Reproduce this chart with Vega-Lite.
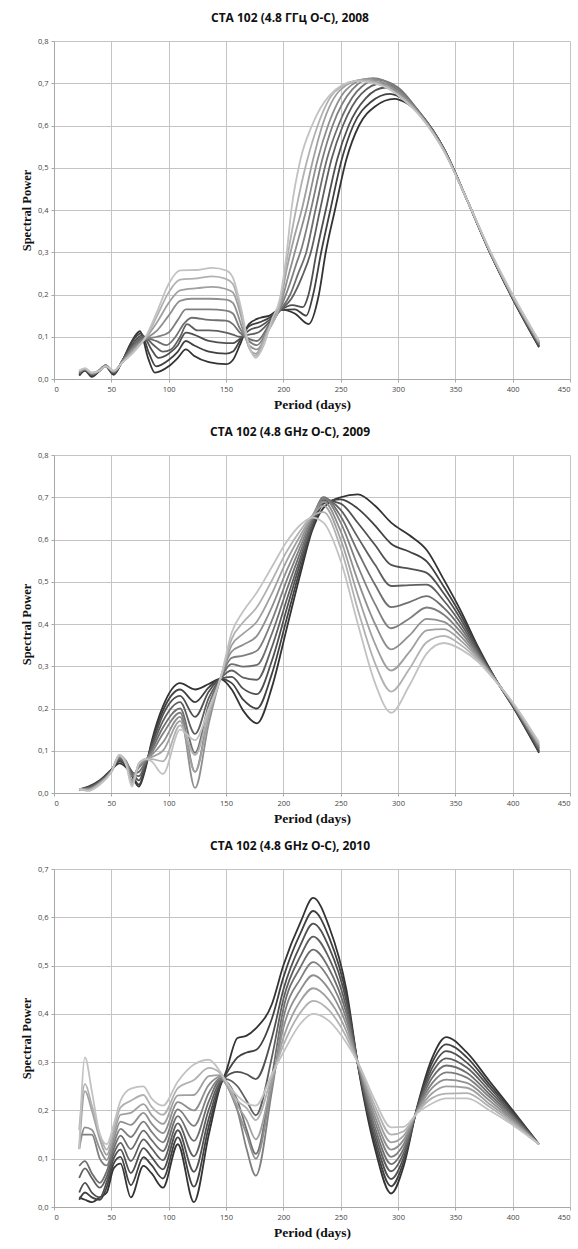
{
"$schema":"https://vega.github.io/schema/vega-lite/v6.json",
"padding":{"left":20,"top":12,"right":0,"bottom":2},
"spacing":15,
"config":{
 "view":{"stroke":null},
 "axis":{"grid":true,"gridColor":"#c4c4c4","gridWidth":1,"domainColor":"#a8a8a8","tickColor":"#a8a8a8","tickSize":3,"labelFont":"Open Sans","labelFontSize":7.5,"labelColor":"#444444","labelPadding":3,"titleFont":"Liberation Serif","titleFontWeight":"bold","titleColor":"#111111"},
 "axisX":{"titleFontSize":13.5,"titlePadding":5},
 "axisY":{"titleFontSize":12.5,"titlePadding":4},
 "title":{"font":"Open Sans","fontWeight":"bold","fontSize":12,"color":"#111111","offset":12},
 "line":{"interpolate":"monotone","strokeWidth":1.8}
},
"datasets":{
"p1":[
{"k":0,"x":22,"y":0.008},{"k":0,"x":27,"y":0.02},{"k":0,"x":33,"y":0.005},{"k":0,"x":40,"y":0.02},{"k":0,"x":45,"y":0.03},{"k":0,"x":52,"y":0.01},{"k":0,"x":60,"y":0.045},{"k":0,"x":68,"y":0.09},{"k":0,"x":75,"y":0.113},{"k":0,"x":82,"y":0.05},{"k":0,"x":88,"y":0.015},{"k":0,"x":100,"y":0.03},{"k":0,"x":108,"y":0.05},{"k":0,"x":115,"y":0.07},{"k":0,"x":122,"y":0.055},{"k":0,"x":135,"y":0.04},{"k":0,"x":150,"y":0.035},{"k":0,"x":156,"y":0.045},{"k":0,"x":162,"y":0.08},{"k":0,"x":170,"y":0.13},{"k":0,"x":180,"y":0.145},{"k":0,"x":188,"y":0.15},{"k":0,"x":197,"y":0.165},{"k":0,"x":210,"y":0.155},{"k":0,"x":222,"y":0.13},{"k":0,"x":231,"y":0.2},{"k":0,"x":237,"y":0.3},{"k":0,"x":245,"y":0.4},{"k":0,"x":255,"y":0.52},{"k":0,"x":266,"y":0.6},{"k":0,"x":280,"y":0.645},{"k":0,"x":297,"y":0.663},{"k":0,"x":308,"y":0.652},{"k":0,"x":320,"y":0.625},{"k":0,"x":340,"y":0.545},{"k":0,"x":360,"y":0.425},{"k":0,"x":380,"y":0.3},{"k":0,"x":400,"y":0.19},{"k":0,"x":423,"y":0.075},
{"k":1,"x":22,"y":0.01},{"k":1,"x":27,"y":0.02},{"k":1,"x":33,"y":0.008},{"k":1,"x":40,"y":0.02},{"k":1,"x":45,"y":0.03},{"k":1,"x":52,"y":0.012},{"k":1,"x":60,"y":0.045},{"k":1,"x":68,"y":0.088},{"k":1,"x":76,"y":0.108},{"k":1,"x":83,"y":0.06},{"k":1,"x":89,"y":0.03},{"k":1,"x":100,"y":0.045},{"k":1,"x":108,"y":0.065},{"k":1,"x":115,"y":0.09},{"k":1,"x":122,"y":0.08},{"k":1,"x":135,"y":0.065},{"k":1,"x":150,"y":0.06},{"k":1,"x":156,"y":0.065},{"k":1,"x":162,"y":0.09},{"k":1,"x":170,"y":0.125},{"k":1,"x":180,"y":0.135},{"k":1,"x":188,"y":0.145},{"k":1,"x":197,"y":0.163},{"k":1,"x":210,"y":0.165},{"k":1,"x":220,"y":0.15},{"k":1,"x":226,"y":0.2},{"k":1,"x":233,"y":0.3},{"k":1,"x":241,"y":0.4},{"k":1,"x":251,"y":0.52},{"k":1,"x":261,"y":0.6},{"k":1,"x":276,"y":0.655},{"k":1,"x":293,"y":0.675},{"k":1,"x":306,"y":0.66},{"k":1,"x":320,"y":0.625},{"k":1,"x":340,"y":0.545},{"k":1,"x":360,"y":0.425},{"k":1,"x":380,"y":0.3},{"k":1,"x":400,"y":0.19},{"k":1,"x":423,"y":0.077},
{"k":2,"x":22,"y":0.012},{"k":2,"x":27,"y":0.022},{"k":2,"x":33,"y":0.01},{"k":2,"x":40,"y":0.02},{"k":2,"x":45,"y":0.032},{"k":2,"x":52,"y":0.014},{"k":2,"x":60,"y":0.045},{"k":2,"x":69,"y":0.085},{"k":2,"x":77,"y":0.104},{"k":2,"x":85,"y":0.07},{"k":2,"x":91,"y":0.05},{"k":2,"x":100,"y":0.06},{"k":2,"x":108,"y":0.08},{"k":2,"x":115,"y":0.11},{"k":2,"x":122,"y":0.105},{"k":2,"x":135,"y":0.09},{"k":2,"x":150,"y":0.085},{"k":2,"x":156,"y":0.085},{"k":2,"x":162,"y":0.095},{"k":2,"x":170,"y":0.115},{"k":2,"x":180,"y":0.125},{"k":2,"x":188,"y":0.14},{"k":2,"x":197,"y":0.162},{"k":2,"x":208,"y":0.175},{"k":2,"x":217,"y":0.17},{"k":2,"x":222,"y":0.2},{"k":2,"x":229,"y":0.3},{"k":2,"x":237,"y":0.4},{"k":2,"x":247,"y":0.52},{"k":2,"x":257,"y":0.6},{"k":2,"x":272,"y":0.665},{"k":2,"x":289,"y":0.69},{"k":2,"x":304,"y":0.67},{"k":2,"x":320,"y":0.627},{"k":2,"x":340,"y":0.545},{"k":2,"x":360,"y":0.425},{"k":2,"x":380,"y":0.301},{"k":2,"x":400,"y":0.191},{"k":2,"x":423,"y":0.079},
{"k":3,"x":22,"y":0.013},{"k":3,"x":27,"y":0.022},{"k":3,"x":33,"y":0.01},{"k":3,"x":40,"y":0.022},{"k":3,"x":45,"y":0.032},{"k":3,"x":52,"y":0.015},{"k":3,"x":60,"y":0.045},{"k":3,"x":70,"y":0.083},{"k":3,"x":78,"y":0.1},{"k":3,"x":87,"y":0.08},{"k":3,"x":95,"y":0.065},{"k":3,"x":102,"y":0.07},{"k":3,"x":110,"y":0.1},{"k":3,"x":116,"y":0.13},{"k":3,"x":125,"y":0.115},{"k":3,"x":135,"y":0.115},{"k":3,"x":150,"y":0.11},{"k":3,"x":156,"y":0.105},{"k":3,"x":162,"y":0.1},{"k":3,"x":170,"y":0.105},{"k":3,"x":178,"y":0.11},{"k":3,"x":188,"y":0.135},{"k":3,"x":197,"y":0.162},{"k":3,"x":207,"y":0.19},{"k":3,"x":216,"y":0.24},{"k":3,"x":224,"y":0.3},{"k":3,"x":232,"y":0.4},{"k":3,"x":242,"y":0.52},{"k":3,"x":252,"y":0.6},{"k":3,"x":268,"y":0.675},{"k":3,"x":286,"y":0.7},{"k":3,"x":302,"y":0.68},{"k":3,"x":320,"y":0.627},{"k":3,"x":340,"y":0.545},{"k":3,"x":360,"y":0.425},{"k":3,"x":380,"y":0.301},{"k":3,"x":400,"y":0.192},{"k":3,"x":423,"y":0.081},
{"k":4,"x":22,"y":0.015},{"k":4,"x":27,"y":0.023},{"k":4,"x":33,"y":0.012},{"k":4,"x":40,"y":0.022},{"k":4,"x":45,"y":0.033},{"k":4,"x":52,"y":0.016},{"k":4,"x":60,"y":0.044},{"k":4,"x":70,"y":0.08},{"k":4,"x":79,"y":0.097},{"k":4,"x":89,"y":0.09},{"k":4,"x":98,"y":0.08},{"k":4,"x":106,"y":0.1},{"k":4,"x":113,"y":0.13},{"k":4,"x":120,"y":0.145},{"k":4,"x":135,"y":0.14},{"k":4,"x":150,"y":0.138},{"k":4,"x":156,"y":0.13},{"k":4,"x":162,"y":0.11},{"k":4,"x":170,"y":0.095},{"k":4,"x":177,"y":0.09},{"k":4,"x":188,"y":0.13},{"k":4,"x":197,"y":0.162},{"k":4,"x":206,"y":0.2},{"k":4,"x":213,"y":0.25},{"k":4,"x":220,"y":0.3},{"k":4,"x":228,"y":0.4},{"k":4,"x":238,"y":0.52},{"k":4,"x":248,"y":0.6},{"k":4,"x":264,"y":0.68},{"k":4,"x":282,"y":0.708},{"k":4,"x":300,"y":0.69},{"k":4,"x":320,"y":0.626},{"k":4,"x":340,"y":0.544},{"k":4,"x":360,"y":0.425},{"k":4,"x":380,"y":0.302},{"k":4,"x":400,"y":0.193},{"k":4,"x":423,"y":0.083},
{"k":5,"x":22,"y":0.016},{"k":5,"x":27,"y":0.023},{"k":5,"x":33,"y":0.012},{"k":5,"x":40,"y":0.022},{"k":5,"x":45,"y":0.033},{"k":5,"x":52,"y":0.017},{"k":5,"x":60,"y":0.043},{"k":5,"x":70,"y":0.077},{"k":5,"x":80,"y":0.095},{"k":5,"x":90,"y":0.1},{"k":5,"x":100,"y":0.11},{"k":5,"x":108,"y":0.14},{"k":5,"x":115,"y":0.165},{"k":5,"x":135,"y":0.165},{"k":5,"x":150,"y":0.162},{"k":5,"x":156,"y":0.155},{"k":5,"x":162,"y":0.12},{"k":5,"x":170,"y":0.09},{"k":5,"x":177,"y":0.08},{"k":5,"x":188,"y":0.125},{"k":5,"x":197,"y":0.165},{"k":5,"x":205,"y":0.22},{"k":5,"x":211,"y":0.27},{"k":5,"x":216,"y":0.31},{"k":5,"x":224,"y":0.4},{"k":5,"x":234,"y":0.52},{"k":5,"x":243,"y":0.6},{"k":5,"x":260,"y":0.685},{"k":5,"x":278,"y":0.712},{"k":5,"x":298,"y":0.69},{"k":5,"x":320,"y":0.625},{"k":5,"x":340,"y":0.543},{"k":5,"x":360,"y":0.425},{"k":5,"x":380,"y":0.302},{"k":5,"x":400,"y":0.194},{"k":5,"x":423,"y":0.084},
{"k":6,"x":22,"y":0.017},{"k":6,"x":27,"y":0.024},{"k":6,"x":33,"y":0.013},{"k":6,"x":40,"y":0.02},{"k":6,"x":45,"y":0.032},{"k":6,"x":52,"y":0.018},{"k":6,"x":60,"y":0.042},{"k":6,"x":70,"y":0.073},{"k":6,"x":80,"y":0.095},{"k":6,"x":90,"y":0.115},{"k":6,"x":100,"y":0.15},{"k":6,"x":110,"y":0.185},{"k":6,"x":120,"y":0.19},{"k":6,"x":135,"y":0.19},{"k":6,"x":150,"y":0.188},{"k":6,"x":156,"y":0.18},{"k":6,"x":163,"y":0.13},{"k":6,"x":170,"y":0.08},{"k":6,"x":177,"y":0.07},{"k":6,"x":188,"y":0.12},{"k":6,"x":197,"y":0.17},{"k":6,"x":204,"y":0.24},{"k":6,"x":212,"y":0.32},{"k":6,"x":220,"y":0.4},{"k":6,"x":230,"y":0.52},{"k":6,"x":239,"y":0.6},{"k":6,"x":255,"y":0.685},{"k":6,"x":274,"y":0.711},{"k":6,"x":295,"y":0.69},{"k":6,"x":320,"y":0.624},{"k":6,"x":340,"y":0.542},{"k":6,"x":360,"y":0.425},{"k":6,"x":380,"y":0.303},{"k":6,"x":400,"y":0.195},{"k":6,"x":423,"y":0.086},
{"k":7,"x":22,"y":0.018},{"k":7,"x":27,"y":0.024},{"k":7,"x":33,"y":0.014},{"k":7,"x":40,"y":0.02},{"k":7,"x":45,"y":0.031},{"k":7,"x":52,"y":0.018},{"k":7,"x":60,"y":0.041},{"k":7,"x":70,"y":0.07},{"k":7,"x":80,"y":0.097},{"k":7,"x":90,"y":0.135},{"k":7,"x":100,"y":0.18},{"k":7,"x":110,"y":0.21},{"k":7,"x":125,"y":0.215},{"k":7,"x":138,"y":0.218},{"k":7,"x":150,"y":0.213},{"k":7,"x":156,"y":0.205},{"k":7,"x":163,"y":0.15},{"k":7,"x":170,"y":0.075},{"k":7,"x":176,"y":0.06},{"k":7,"x":187,"y":0.12},{"k":7,"x":197,"y":0.175},{"k":7,"x":203,"y":0.26},{"k":7,"x":209,"y":0.33},{"k":7,"x":216,"y":0.4},{"k":7,"x":226,"y":0.52},{"k":7,"x":234,"y":0.6},{"k":7,"x":250,"y":0.685},{"k":7,"x":270,"y":0.709},{"k":7,"x":292,"y":0.69},{"k":7,"x":320,"y":0.622},{"k":7,"x":340,"y":0.541},{"k":7,"x":360,"y":0.425},{"k":7,"x":380,"y":0.303},{"k":7,"x":400,"y":0.196},{"k":7,"x":423,"y":0.087},
{"k":8,"x":22,"y":0.019},{"k":8,"x":27,"y":0.025},{"k":8,"x":33,"y":0.015},{"k":8,"x":40,"y":0.02},{"k":8,"x":45,"y":0.03},{"k":8,"x":52,"y":0.019},{"k":8,"x":60,"y":0.04},{"k":8,"x":70,"y":0.067},{"k":8,"x":80,"y":0.098},{"k":8,"x":90,"y":0.15},{"k":8,"x":100,"y":0.205},{"k":8,"x":110,"y":0.235},{"k":8,"x":125,"y":0.238},{"k":8,"x":138,"y":0.243},{"k":8,"x":150,"y":0.237},{"k":8,"x":156,"y":0.225},{"k":8,"x":163,"y":0.16},{"k":8,"x":170,"y":0.075},{"k":8,"x":176,"y":0.055},{"k":8,"x":186,"y":0.11},{"k":8,"x":197,"y":0.18},{"k":8,"x":203,"y":0.28},{"k":8,"x":211,"y":0.4},{"k":8,"x":221,"y":0.52},{"k":8,"x":230,"y":0.6},{"k":8,"x":245,"y":0.68},{"k":8,"x":267,"y":0.707},{"k":8,"x":290,"y":0.69},{"k":8,"x":320,"y":0.621},{"k":8,"x":340,"y":0.54},{"k":8,"x":360,"y":0.425},{"k":8,"x":380,"y":0.304},{"k":8,"x":400,"y":0.197},{"k":8,"x":423,"y":0.089},
{"k":9,"x":22,"y":0.02},{"k":9,"x":27,"y":0.025},{"k":9,"x":33,"y":0.015},{"k":9,"x":40,"y":0.02},{"k":9,"x":45,"y":0.03},{"k":9,"x":52,"y":0.02},{"k":9,"x":60,"y":0.04},{"k":9,"x":70,"y":0.065},{"k":9,"x":80,"y":0.1},{"k":9,"x":90,"y":0.16},{"k":9,"x":100,"y":0.225},{"k":9,"x":110,"y":0.257},{"k":9,"x":125,"y":0.258},{"k":9,"x":138,"y":0.263},{"k":9,"x":150,"y":0.257},{"k":9,"x":156,"y":0.24},{"k":9,"x":163,"y":0.17},{"k":9,"x":170,"y":0.08},{"k":9,"x":176,"y":0.05},{"k":9,"x":183,"y":0.08},{"k":9,"x":190,"y":0.14},{"k":9,"x":197,"y":0.19},{"k":9,"x":203,"y":0.3},{"k":9,"x":207,"y":0.4},{"k":9,"x":215,"y":0.52},{"k":9,"x":225,"y":0.6},{"k":9,"x":240,"y":0.67},{"k":9,"x":263,"y":0.705},{"k":9,"x":290,"y":0.69},{"k":9,"x":305,"y":0.66},{"k":9,"x":320,"y":0.62},{"k":9,"x":340,"y":0.54},{"k":9,"x":360,"y":0.425},{"k":9,"x":380,"y":0.305},{"k":9,"x":400,"y":0.2},{"k":9,"x":423,"y":0.09}
],
"p2":[
{"k":0,"x":22,"y":0.008},{"k":1,"x":22,"y":0.008},{"k":2,"x":22,"y":0.009},{"k":3,"x":22,"y":0.009},{"k":4,"x":22,"y":0.01},{"k":5,"x":22,"y":0.01},{"k":6,"x":22,"y":0.01},{"k":7,"x":22,"y":0.01},{"k":8,"x":22,"y":0.01},{"k":9,"x":22,"y":0.01},
{"k":0,"x":30,"y":0.015},{"k":1,"x":30,"y":0.014},{"k":2,"x":30,"y":0.013},{"k":3,"x":30,"y":0.012},{"k":4,"x":30,"y":0.011},{"k":5,"x":30,"y":0.01},{"k":6,"x":30,"y":0.009},{"k":7,"x":30,"y":0.008},{"k":8,"x":30,"y":0.006},{"k":9,"x":30,"y":0.005},
{"k":0,"x":40,"y":0.03},{"k":1,"x":40,"y":0.029},{"k":2,"x":40,"y":0.028},{"k":3,"x":40,"y":0.027},{"k":4,"x":40,"y":0.026},{"k":5,"x":40,"y":0.025},{"k":6,"x":40,"y":0.024},{"k":7,"x":40,"y":0.023},{"k":8,"x":40,"y":0.021},{"k":9,"x":40,"y":0.02},
{"k":0,"x":50,"y":0.055},{"k":1,"x":50,"y":0.055},{"k":2,"x":50,"y":0.054},{"k":3,"x":50,"y":0.053},{"k":4,"x":50,"y":0.052},{"k":5,"x":50,"y":0.051},{"k":6,"x":50,"y":0.05},{"k":7,"x":50,"y":0.05},{"k":8,"x":50,"y":0.05},{"k":9,"x":50,"y":0.05},
{"k":0,"x":57,"y":0.07},{"k":1,"x":57,"y":0.075},{"k":2,"x":57,"y":0.078},{"k":3,"x":57,"y":0.08},{"k":4,"x":57,"y":0.083},{"k":5,"x":57,"y":0.085},{"k":6,"x":57,"y":0.087},{"k":7,"x":57,"y":0.088},{"k":8,"x":57,"y":0.09},{"k":9,"x":57,"y":0.09},
{"k":0,"x":63,"y":0.06},{"k":1,"x":63,"y":0.065},{"k":2,"x":63,"y":0.07},{"k":3,"x":63,"y":0.072},{"k":4,"x":63,"y":0.074},{"k":5,"x":63,"y":0.075},{"k":6,"x":63,"y":0.075},{"k":7,"x":63,"y":0.072},{"k":8,"x":63,"y":0.07},{"k":9,"x":63,"y":0.065},
{"k":0,"x":68,"y":0.04},{"k":1,"x":68,"y":0.045},{"k":2,"x":68,"y":0.05},{"k":3,"x":68,"y":0.05},{"k":4,"x":68,"y":0.045},{"k":5,"x":68,"y":0.04},{"k":6,"x":68,"y":0.03},{"k":7,"x":68,"y":0.025},{"k":8,"x":68,"y":0.02},{"k":9,"x":68,"y":0.015},
{"k":0,"x":74,"y":0.015},{"k":1,"x":74,"y":0.02},{"k":2,"x":74,"y":0.03},{"k":3,"x":74,"y":0.04},{"k":4,"x":74,"y":0.05},{"k":5,"x":74,"y":0.06},{"k":6,"x":74,"y":0.065},{"k":7,"x":74,"y":0.068},{"k":8,"x":74,"y":0.07},{"k":9,"x":74,"y":0.07},
{"k":0,"x":80,"y":0.06},{"k":1,"x":80,"y":0.065},{"k":2,"x":80,"y":0.07},{"k":3,"x":80,"y":0.072},{"k":4,"x":80,"y":0.075},{"k":5,"x":80,"y":0.078},{"k":6,"x":80,"y":0.08},{"k":7,"x":80,"y":0.08},{"k":8,"x":80,"y":0.08},{"k":9,"x":80,"y":0.08},
{"k":0,"x":85,"y":0.12},{"k":1,"x":85,"y":0.115},{"k":2,"x":85,"y":0.11},{"k":3,"x":85,"y":0.105},{"k":4,"x":85,"y":0.1},{"k":5,"x":85,"y":0.095},{"k":6,"x":85,"y":0.09},{"k":7,"x":85,"y":0.085},{"k":8,"x":85,"y":0.08},{"k":9,"x":85,"y":0.075},
{"k":0,"x":95,"y":0.205},{"k":1,"x":95,"y":0.195},{"k":2,"x":95,"y":0.185},{"k":3,"x":95,"y":0.17},{"k":4,"x":95,"y":0.155},{"k":5,"x":95,"y":0.14},{"k":6,"x":95,"y":0.12},{"k":7,"x":95,"y":0.1},{"k":8,"x":95,"y":0.075},{"k":9,"x":95,"y":0.045},
{"k":0,"x":110,"y":0.26},{"k":1,"x":110,"y":0.245},{"k":2,"x":110,"y":0.23},{"k":3,"x":110,"y":0.215},{"k":4,"x":110,"y":0.2},{"k":5,"x":110,"y":0.19},{"k":6,"x":110,"y":0.18},{"k":7,"x":110,"y":0.17},{"k":8,"x":110,"y":0.16},{"k":9,"x":110,"y":0.15},
{"k":0,"x":123,"y":0.245},{"k":1,"x":123,"y":0.215},{"k":2,"x":123,"y":0.18},{"k":3,"x":123,"y":0.14},{"k":4,"x":123,"y":0.095},{"k":5,"x":123,"y":0.05},{"k":6,"x":123,"y":0.012},{"k":7,"x":123,"y":0.05},{"k":8,"x":123,"y":0.09},{"k":9,"x":123,"y":0.125},
{"k":0,"x":135,"y":0.258},{"k":1,"x":135,"y":0.25},{"k":2,"x":135,"y":0.24},{"k":3,"x":135,"y":0.225},{"k":4,"x":135,"y":0.21},{"k":5,"x":135,"y":0.19},{"k":6,"x":135,"y":0.165},{"k":7,"x":135,"y":0.18},{"k":8,"x":135,"y":0.19},{"k":9,"x":135,"y":0.2},
{"k":0,"x":145,"y":0.27},{"k":1,"x":145,"y":0.27},{"k":2,"x":145,"y":0.27},{"k":3,"x":145,"y":0.27},{"k":4,"x":145,"y":0.27},{"k":5,"x":145,"y":0.27},{"k":6,"x":145,"y":0.27},{"k":7,"x":145,"y":0.27},{"k":8,"x":145,"y":0.27},{"k":9,"x":145,"y":0.27},
{"k":0,"x":155,"y":0.245},{"k":1,"x":155,"y":0.26},{"k":2,"x":155,"y":0.275},{"k":3,"x":155,"y":0.29},{"k":4,"x":155,"y":0.305},{"k":5,"x":155,"y":0.32},{"k":6,"x":155,"y":0.335},{"k":7,"x":155,"y":0.35},{"k":8,"x":155,"y":0.365},{"k":9,"x":155,"y":0.38},
{"k":0,"x":165,"y":0.195},{"k":1,"x":165,"y":0.221},{"k":2,"x":165,"y":0.247},{"k":3,"x":165,"y":0.273},{"k":4,"x":165,"y":0.299},{"k":5,"x":165,"y":0.325},{"k":6,"x":165,"y":0.351},{"k":7,"x":165,"y":0.377},{"k":8,"x":165,"y":0.404},{"k":9,"x":165,"y":0.43},
{"k":0,"x":177,"y":0.165},{"k":1,"x":177,"y":0.2},{"k":2,"x":177,"y":0.234},{"k":3,"x":177,"y":0.268},{"k":4,"x":177,"y":0.303},{"k":5,"x":177,"y":0.337},{"k":6,"x":177,"y":0.372},{"k":7,"x":177,"y":0.406},{"k":8,"x":177,"y":0.44},{"k":9,"x":177,"y":0.475},
{"k":0,"x":190,"y":0.25},{"k":1,"x":190,"y":0.282},{"k":2,"x":190,"y":0.313},{"k":3,"x":190,"y":0.345},{"k":4,"x":190,"y":0.377},{"k":5,"x":190,"y":0.408},{"k":6,"x":190,"y":0.44},{"k":7,"x":190,"y":0.472},{"k":8,"x":190,"y":0.503},{"k":9,"x":190,"y":0.535},
{"k":0,"x":203,"y":0.39},{"k":1,"x":203,"y":0.413},{"k":2,"x":203,"y":0.436},{"k":3,"x":203,"y":0.458},{"k":4,"x":203,"y":0.481},{"k":5,"x":203,"y":0.504},{"k":6,"x":203,"y":0.527},{"k":7,"x":203,"y":0.55},{"k":8,"x":203,"y":0.572},{"k":9,"x":203,"y":0.595},
{"k":0,"x":215,"y":0.52},{"k":1,"x":215,"y":0.533},{"k":2,"x":215,"y":0.546},{"k":3,"x":215,"y":0.558},{"k":4,"x":215,"y":0.571},{"k":5,"x":215,"y":0.584},{"k":6,"x":215,"y":0.597},{"k":7,"x":215,"y":0.61},{"k":8,"x":215,"y":0.622},{"k":9,"x":215,"y":0.635},
{"k":0,"x":225,"y":0.62},{"k":1,"x":225,"y":0.625},{"k":2,"x":225,"y":0.63},{"k":3,"x":225,"y":0.64},{"k":4,"x":225,"y":0.645},{"k":5,"x":225,"y":0.65},{"k":6,"x":225,"y":0.655},{"k":7,"x":225,"y":0.655},{"k":8,"x":225,"y":0.655},{"k":9,"x":225,"y":0.652},
{"k":0,"x":235,"y":0.675},{"k":1,"x":235,"y":0.685},{"k":2,"x":235,"y":0.693},{"k":3,"x":235,"y":0.698},{"k":4,"x":235,"y":0.7},{"k":5,"x":235,"y":0.698},{"k":6,"x":235,"y":0.69},{"k":7,"x":235,"y":0.68},{"k":8,"x":235,"y":0.665},{"k":9,"x":235,"y":0.64},
{"k":0,"x":250,"y":0.7},{"k":1,"x":250,"y":0.695},{"k":2,"x":250,"y":0.685},{"k":3,"x":250,"y":0.67},{"k":4,"x":250,"y":0.655},{"k":5,"x":250,"y":0.64},{"k":6,"x":250,"y":0.62},{"k":7,"x":250,"y":0.6},{"k":8,"x":250,"y":0.58},{"k":9,"x":250,"y":0.55},
{"k":0,"x":265,"y":0.707},{"k":1,"x":265,"y":0.673},{"k":2,"x":265,"y":0.639},{"k":3,"x":265,"y":0.605},{"k":4,"x":265,"y":0.571},{"k":5,"x":265,"y":0.537},{"k":6,"x":265,"y":0.502},{"k":7,"x":265,"y":0.468},{"k":8,"x":265,"y":0.434},{"k":9,"x":265,"y":0.4},
{"k":0,"x":280,"y":0.68},{"k":1,"x":280,"y":0.633},{"k":2,"x":280,"y":0.587},{"k":3,"x":280,"y":0.54},{"k":4,"x":280,"y":0.493},{"k":5,"x":280,"y":0.447},{"k":6,"x":280,"y":0.4},{"k":7,"x":280,"y":0.353},{"k":8,"x":280,"y":0.307},{"k":9,"x":280,"y":0.26},
{"k":0,"x":294,"y":0.64},{"k":1,"x":294,"y":0.59},{"k":2,"x":294,"y":0.54},{"k":3,"x":294,"y":0.49},{"k":4,"x":294,"y":0.44},{"k":5,"x":294,"y":0.39},{"k":6,"x":294,"y":0.34},{"k":7,"x":294,"y":0.29},{"k":8,"x":294,"y":0.24},{"k":9,"x":294,"y":0.19},
{"k":0,"x":310,"y":0.61},{"k":1,"x":310,"y":0.571},{"k":2,"x":310,"y":0.531},{"k":3,"x":310,"y":0.492},{"k":4,"x":310,"y":0.452},{"k":5,"x":310,"y":0.413},{"k":6,"x":310,"y":0.373},{"k":7,"x":310,"y":0.334},{"k":8,"x":310,"y":0.294},{"k":9,"x":310,"y":0.255},
{"k":0,"x":325,"y":0.575},{"k":1,"x":325,"y":0.548},{"k":2,"x":325,"y":0.521},{"k":3,"x":325,"y":0.493},{"k":4,"x":325,"y":0.466},{"k":5,"x":325,"y":0.439},{"k":6,"x":325,"y":0.412},{"k":7,"x":325,"y":0.385},{"k":8,"x":325,"y":0.357},{"k":9,"x":325,"y":0.33},
{"k":0,"x":340,"y":0.505},{"k":1,"x":340,"y":0.488},{"k":2,"x":340,"y":0.472},{"k":3,"x":340,"y":0.455},{"k":4,"x":340,"y":0.438},{"k":5,"x":340,"y":0.422},{"k":6,"x":340,"y":0.405},{"k":7,"x":340,"y":0.388},{"k":8,"x":340,"y":0.372},{"k":9,"x":340,"y":0.355},
{"k":0,"x":355,"y":0.43},{"k":1,"x":355,"y":0.42},{"k":2,"x":355,"y":0.41},{"k":3,"x":355,"y":0.4},{"k":4,"x":355,"y":0.39},{"k":5,"x":355,"y":0.38},{"k":6,"x":355,"y":0.37},{"k":7,"x":355,"y":0.36},{"k":8,"x":355,"y":0.35},{"k":9,"x":355,"y":0.34},
{"k":0,"x":370,"y":0.345},{"k":1,"x":370,"y":0.341},{"k":2,"x":370,"y":0.337},{"k":3,"x":370,"y":0.333},{"k":4,"x":370,"y":0.329},{"k":5,"x":370,"y":0.326},{"k":6,"x":370,"y":0.322},{"k":7,"x":370,"y":0.318},{"k":8,"x":370,"y":0.314},{"k":9,"x":370,"y":0.31},
{"k":0,"x":385,"y":0.27},{"k":1,"x":385,"y":0.27},{"k":2,"x":385,"y":0.269},{"k":3,"x":385,"y":0.269},{"k":4,"x":385,"y":0.268},{"k":5,"x":385,"y":0.268},{"k":6,"x":385,"y":0.267},{"k":7,"x":385,"y":0.267},{"k":8,"x":385,"y":0.266},{"k":9,"x":385,"y":0.265},
{"k":0,"x":400,"y":0.205},{"k":1,"x":400,"y":0.206},{"k":2,"x":400,"y":0.207},{"k":3,"x":400,"y":0.208},{"k":4,"x":400,"y":0.209},{"k":5,"x":400,"y":0.21},{"k":6,"x":400,"y":0.211},{"k":7,"x":400,"y":0.212},{"k":8,"x":400,"y":0.213},{"k":9,"x":400,"y":0.215},
{"k":0,"x":423,"y":0.095},{"k":1,"x":423,"y":0.098},{"k":2,"x":423,"y":0.1},{"k":3,"x":423,"y":0.103},{"k":4,"x":423,"y":0.106},{"k":5,"x":423,"y":0.109},{"k":6,"x":423,"y":0.112},{"k":7,"x":423,"y":0.114},{"k":8,"x":423,"y":0.117},{"k":9,"x":423,"y":0.12}
],
"p3":[
{"k":0,"x":22,"y":0.02},{"k":1,"x":22,"y":0.015},{"k":2,"x":22,"y":0.03},{"k":3,"x":22,"y":0.06},{"k":4,"x":22,"y":0.085},{"k":5,"x":22,"y":0.15},{"k":6,"x":22,"y":0.12},{"k":7,"x":22,"y":0.12},{"k":8,"x":22,"y":0.16},{"k":9,"x":22,"y":0.12},
{"k":0,"x":27,"y":0.015},{"k":1,"x":27,"y":0.03},{"k":2,"x":27,"y":0.05},{"k":3,"x":27,"y":0.08},{"k":4,"x":27,"y":0.095},{"k":5,"x":27,"y":0.15},{"k":6,"x":27,"y":0.165},{"k":7,"x":27,"y":0.24},{"k":8,"x":27,"y":0.255},{"k":9,"x":27,"y":0.31},
{"k":0,"x":33,"y":0.01},{"k":1,"x":33,"y":0.02},{"k":2,"x":33,"y":0.03},{"k":3,"x":33,"y":0.06},{"k":4,"x":33,"y":0.07},{"k":5,"x":33,"y":0.15},{"k":6,"x":33,"y":0.16},{"k":7,"x":33,"y":0.2},{"k":8,"x":33,"y":0.21},{"k":9,"x":33,"y":0.24},
{"k":0,"x":40,"y":0.02},{"k":1,"x":40,"y":0.015},{"k":2,"x":40,"y":0.02},{"k":3,"x":40,"y":0.04},{"k":4,"x":40,"y":0.05},{"k":5,"x":40,"y":0.1},{"k":6,"x":40,"y":0.12},{"k":7,"x":40,"y":0.14},{"k":8,"x":40,"y":0.15},{"k":9,"x":40,"y":0.15},
{"k":0,"x":46,"y":0.03},{"k":1,"x":46,"y":0.041},{"k":2,"x":46,"y":0.052},{"k":3,"x":46,"y":0.063},{"k":4,"x":46,"y":0.074},{"k":5,"x":46,"y":0.086},{"k":6,"x":46,"y":0.097},{"k":7,"x":46,"y":0.108},{"k":8,"x":46,"y":0.119},{"k":9,"x":46,"y":0.13},
{"k":0,"x":52,"y":0.08},{"k":1,"x":52,"y":0.09},{"k":2,"x":52,"y":0.1},{"k":3,"x":52,"y":0.11},{"k":4,"x":52,"y":0.12},{"k":5,"x":52,"y":0.13},{"k":6,"x":52,"y":0.14},{"k":7,"x":52,"y":0.15},{"k":8,"x":52,"y":0.16},{"k":9,"x":52,"y":0.17},
{"k":0,"x":58,"y":0.09},{"k":1,"x":58,"y":0.104},{"k":2,"x":58,"y":0.119},{"k":3,"x":58,"y":0.133},{"k":4,"x":58,"y":0.148},{"k":5,"x":58,"y":0.162},{"k":6,"x":58,"y":0.177},{"k":7,"x":58,"y":0.191},{"k":8,"x":58,"y":0.206},{"k":9,"x":58,"y":0.22},
{"k":0,"x":67,"y":0.02},{"k":1,"x":67,"y":0.045},{"k":2,"x":67,"y":0.07},{"k":3,"x":67,"y":0.095},{"k":4,"x":67,"y":0.12},{"k":5,"x":67,"y":0.145},{"k":6,"x":67,"y":0.17},{"k":7,"x":67,"y":0.195},{"k":8,"x":67,"y":0.22},{"k":9,"x":67,"y":0.245},
{"k":0,"x":78,"y":0.085},{"k":1,"x":78,"y":0.103},{"k":2,"x":78,"y":0.122},{"k":3,"x":78,"y":0.14},{"k":4,"x":78,"y":0.158},{"k":5,"x":78,"y":0.177},{"k":6,"x":78,"y":0.195},{"k":7,"x":78,"y":0.213},{"k":8,"x":78,"y":0.232},{"k":9,"x":78,"y":0.25},
{"k":0,"x":85,"y":0.07},{"k":1,"x":85,"y":0.087},{"k":2,"x":85,"y":0.104},{"k":3,"x":85,"y":0.122},{"k":4,"x":85,"y":0.139},{"k":5,"x":85,"y":0.156},{"k":6,"x":85,"y":0.173},{"k":7,"x":85,"y":0.191},{"k":8,"x":85,"y":0.208},{"k":9,"x":85,"y":0.225},
{"k":0,"x":95,"y":0.04},{"k":1,"x":95,"y":0.059},{"k":2,"x":95,"y":0.078},{"k":3,"x":95,"y":0.097},{"k":4,"x":95,"y":0.116},{"k":5,"x":95,"y":0.134},{"k":6,"x":95,"y":0.153},{"k":7,"x":95,"y":0.172},{"k":8,"x":95,"y":0.191},{"k":9,"x":95,"y":0.21},
{"k":0,"x":108,"y":0.13},{"k":1,"x":108,"y":0.144},{"k":2,"x":108,"y":0.159},{"k":3,"x":108,"y":0.173},{"k":4,"x":108,"y":0.188},{"k":5,"x":108,"y":0.202},{"k":6,"x":108,"y":0.217},{"k":7,"x":108,"y":0.231},{"k":8,"x":108,"y":0.246},{"k":9,"x":108,"y":0.26},
{"k":0,"x":122,"y":0.01},{"k":1,"x":122,"y":0.042},{"k":2,"x":122,"y":0.073},{"k":3,"x":122,"y":0.105},{"k":4,"x":122,"y":0.137},{"k":5,"x":122,"y":0.168},{"k":6,"x":122,"y":0.2},{"k":7,"x":122,"y":0.232},{"k":8,"x":122,"y":0.263},{"k":9,"x":122,"y":0.295},
{"k":0,"x":135,"y":0.15},{"k":1,"x":135,"y":0.167},{"k":2,"x":135,"y":0.184},{"k":3,"x":135,"y":0.202},{"k":4,"x":135,"y":0.219},{"k":5,"x":135,"y":0.236},{"k":6,"x":135,"y":0.253},{"k":7,"x":135,"y":0.271},{"k":8,"x":135,"y":0.288},{"k":9,"x":135,"y":0.305},
{"k":0,"x":145,"y":0.25},{"k":1,"x":145,"y":0.253},{"k":2,"x":145,"y":0.257},{"k":3,"x":145,"y":0.26},{"k":4,"x":145,"y":0.263},{"k":5,"x":145,"y":0.267},{"k":6,"x":145,"y":0.27},{"k":7,"x":145,"y":0.273},{"k":8,"x":145,"y":0.277},{"k":9,"x":145,"y":0.28},
{"k":0,"x":150,"y":0.28},{"k":1,"x":150,"y":0.275},{"k":2,"x":150,"y":0.27},{"k":3,"x":150,"y":0.265},{"k":4,"x":150,"y":0.26},{"k":5,"x":150,"y":0.255},{"k":6,"x":150,"y":0.255},{"k":7,"x":150,"y":0.255},{"k":8,"x":150,"y":0.258},{"k":9,"x":150,"y":0.26},
{"k":0,"x":160,"y":0.35},{"k":1,"x":160,"y":0.31},{"k":2,"x":160,"y":0.28},{"k":3,"x":160,"y":0.25},{"k":4,"x":160,"y":0.22},{"k":5,"x":160,"y":0.2},{"k":6,"x":160,"y":0.2},{"k":7,"x":160,"y":0.21},{"k":8,"x":160,"y":0.22},{"k":9,"x":160,"y":0.23},
{"k":0,"x":168,"y":0.355},{"k":1,"x":168,"y":0.32},{"k":2,"x":168,"y":0.275},{"k":3,"x":168,"y":0.22},{"k":4,"x":168,"y":0.16},{"k":5,"x":168,"y":0.12},{"k":6,"x":168,"y":0.15},{"k":7,"x":168,"y":0.18},{"k":8,"x":168,"y":0.205},{"k":9,"x":168,"y":0.215},
{"k":0,"x":176,"y":0.37},{"k":1,"x":176,"y":0.325},{"k":2,"x":176,"y":0.265},{"k":3,"x":176,"y":0.19},{"k":4,"x":176,"y":0.11},{"k":5,"x":176,"y":0.065},{"k":6,"x":176,"y":0.1},{"k":7,"x":176,"y":0.14},{"k":8,"x":176,"y":0.18},{"k":9,"x":176,"y":0.21},
{"k":0,"x":190,"y":0.42},{"k":1,"x":190,"y":0.39},{"k":2,"x":190,"y":0.35},{"k":3,"x":190,"y":0.31},{"k":4,"x":190,"y":0.27},{"k":5,"x":190,"y":0.24},{"k":6,"x":190,"y":0.25},{"k":7,"x":190,"y":0.26},{"k":8,"x":190,"y":0.27},{"k":9,"x":190,"y":0.275},
{"k":0,"x":200,"y":0.5},{"k":1,"x":200,"y":0.475},{"k":2,"x":200,"y":0.45},{"k":3,"x":200,"y":0.43},{"k":4,"x":200,"y":0.41},{"k":5,"x":200,"y":0.39},{"k":6,"x":200,"y":0.37},{"k":7,"x":200,"y":0.35},{"k":8,"x":200,"y":0.335},{"k":9,"x":200,"y":0.32},
{"k":0,"x":215,"y":0.59},{"k":1,"x":215,"y":0.567},{"k":2,"x":215,"y":0.543},{"k":3,"x":215,"y":0.52},{"k":4,"x":215,"y":0.497},{"k":5,"x":215,"y":0.473},{"k":6,"x":215,"y":0.45},{"k":7,"x":215,"y":0.427},{"k":8,"x":215,"y":0.403},{"k":9,"x":215,"y":0.38},
{"k":0,"x":226,"y":0.64},{"k":1,"x":226,"y":0.613},{"k":2,"x":226,"y":0.587},{"k":3,"x":226,"y":0.56},{"k":4,"x":226,"y":0.533},{"k":5,"x":226,"y":0.507},{"k":6,"x":226,"y":0.48},{"k":7,"x":226,"y":0.453},{"k":8,"x":226,"y":0.427},{"k":9,"x":226,"y":0.4},
{"k":0,"x":240,"y":0.58},{"k":1,"x":240,"y":0.558},{"k":2,"x":240,"y":0.537},{"k":3,"x":240,"y":0.515},{"k":4,"x":240,"y":0.493},{"k":5,"x":240,"y":0.472},{"k":6,"x":240,"y":0.45},{"k":7,"x":240,"y":0.428},{"k":8,"x":240,"y":0.407},{"k":9,"x":240,"y":0.385},
{"k":0,"x":255,"y":0.45},{"k":1,"x":255,"y":0.438},{"k":2,"x":255,"y":0.426},{"k":3,"x":255,"y":0.413},{"k":4,"x":255,"y":0.401},{"k":5,"x":255,"y":0.389},{"k":6,"x":255,"y":0.377},{"k":7,"x":255,"y":0.364},{"k":8,"x":255,"y":0.352},{"k":9,"x":255,"y":0.34},
{"k":0,"x":266,"y":0.28},{"k":1,"x":266,"y":0.282},{"k":2,"x":266,"y":0.283},{"k":3,"x":266,"y":0.285},{"k":4,"x":266,"y":0.287},{"k":5,"x":266,"y":0.288},{"k":6,"x":266,"y":0.29},{"k":7,"x":266,"y":0.292},{"k":8,"x":266,"y":0.293},{"k":9,"x":266,"y":0.295},
{"k":0,"x":280,"y":0.12},{"k":1,"x":280,"y":0.131},{"k":2,"x":280,"y":0.142},{"k":3,"x":280,"y":0.153},{"k":4,"x":280,"y":0.164},{"k":5,"x":280,"y":0.176},{"k":6,"x":280,"y":0.187},{"k":7,"x":280,"y":0.198},{"k":8,"x":280,"y":0.209},{"k":9,"x":280,"y":0.22},
{"k":0,"x":294,"y":0.028},{"k":1,"x":294,"y":0.043},{"k":2,"x":294,"y":0.058},{"k":3,"x":294,"y":0.074},{"k":4,"x":294,"y":0.089},{"k":5,"x":294,"y":0.104},{"k":6,"x":294,"y":0.119},{"k":7,"x":294,"y":0.134},{"k":8,"x":294,"y":0.15},{"k":9,"x":294,"y":0.165},
{"k":0,"x":305,"y":0.085},{"k":1,"x":305,"y":0.094},{"k":2,"x":305,"y":0.103},{"k":3,"x":305,"y":0.112},{"k":4,"x":305,"y":0.121},{"k":5,"x":305,"y":0.13},{"k":6,"x":305,"y":0.139},{"k":7,"x":305,"y":0.148},{"k":8,"x":305,"y":0.157},{"k":9,"x":305,"y":0.166},
{"k":0,"x":317,"y":0.21},{"k":1,"x":317,"y":0.208},{"k":2,"x":317,"y":0.207},{"k":3,"x":317,"y":0.205},{"k":4,"x":317,"y":0.203},{"k":5,"x":317,"y":0.202},{"k":6,"x":317,"y":0.2},{"k":7,"x":317,"y":0.198},{"k":8,"x":317,"y":0.197},{"k":9,"x":317,"y":0.195},
{"k":0,"x":330,"y":0.31},{"k":1,"x":330,"y":0.3},{"k":2,"x":330,"y":0.289},{"k":3,"x":330,"y":0.279},{"k":4,"x":330,"y":0.268},{"k":5,"x":330,"y":0.257},{"k":6,"x":330,"y":0.247},{"k":7,"x":330,"y":0.236},{"k":8,"x":330,"y":0.226},{"k":9,"x":330,"y":0.215},
{"k":0,"x":342,"y":0.352},{"k":1,"x":342,"y":0.337},{"k":2,"x":342,"y":0.323},{"k":3,"x":342,"y":0.308},{"k":4,"x":342,"y":0.293},{"k":5,"x":342,"y":0.279},{"k":6,"x":342,"y":0.264},{"k":7,"x":342,"y":0.25},{"k":8,"x":342,"y":0.235},{"k":9,"x":342,"y":0.225},
{"k":0,"x":360,"y":0.32},{"k":1,"x":360,"y":0.31},{"k":2,"x":360,"y":0.299},{"k":3,"x":360,"y":0.289},{"k":4,"x":360,"y":0.278},{"k":5,"x":360,"y":0.268},{"k":6,"x":360,"y":0.257},{"k":7,"x":360,"y":0.247},{"k":8,"x":360,"y":0.236},{"k":9,"x":360,"y":0.225},
{"k":0,"x":380,"y":0.26},{"k":1,"x":380,"y":0.253},{"k":2,"x":380,"y":0.247},{"k":3,"x":380,"y":0.24},{"k":4,"x":380,"y":0.233},{"k":5,"x":380,"y":0.227},{"k":6,"x":380,"y":0.22},{"k":7,"x":380,"y":0.213},{"k":8,"x":380,"y":0.207},{"k":9,"x":380,"y":0.2},
{"k":0,"x":400,"y":0.2},{"k":1,"x":400,"y":0.197},{"k":2,"x":400,"y":0.193},{"k":3,"x":400,"y":0.19},{"k":4,"x":400,"y":0.187},{"k":5,"x":400,"y":0.183},{"k":6,"x":400,"y":0.18},{"k":7,"x":400,"y":0.177},{"k":8,"x":400,"y":0.173},{"k":9,"x":400,"y":0.17},
{"k":0,"x":423,"y":0.13},{"k":1,"x":423,"y":0.13},{"k":2,"x":423,"y":0.13},{"k":3,"x":423,"y":0.13},{"k":4,"x":423,"y":0.13},{"k":5,"x":423,"y":0.13},{"k":6,"x":423,"y":0.13},{"k":7,"x":423,"y":0.13},{"k":8,"x":423,"y":0.13},{"k":9,"x":423,"y":0.13}
]
},
"vconcat":[
{"width":516,"height":338,"title":{"text":"CTA 102 (4.8 ГГц O-C), 2008","dx":-22},"data":{"name":"p1"},"mark":{"type":"line"},
 "encoding":{
  "x":{"field":"x","type":"quantitative","scale":{"domain":[0,450],"nice":false},"axis":{"values":[0,50,100,150,200,250,300,350,400,450],"title":"Period (days)"}},
  "y":{"field":"y","type":"quantitative","scale":{"domain":[0,0.8],"nice":false},"axis":{"values":[0,0.1,0.2,0.3,0.4,0.5,0.6,0.7,0.8],"labelExpr":"replace(format(datum.value,'.1f'),'.',',')","title":"Spectral Power"}},
  "color":{"field":"k","type":"quantitative","scale":{"domain":[0,9],"range":["#333333","#c2c2c2"]},"legend":null},
  "detail":{"field":"k","type":"nominal"}}},
{"width":516,"height":338,"title":{"text":"CTA 102 (4.8 GHz O-C), 2009","dx":-22},"data":{"name":"p2"},"mark":{"type":"line"},
 "encoding":{
  "x":{"field":"x","type":"quantitative","scale":{"domain":[0,450],"nice":false},"axis":{"values":[0,50,100,150,200,250,300,350,400,450],"title":"Period (days)"}},
  "y":{"field":"y","type":"quantitative","scale":{"domain":[0,0.8],"nice":false},"axis":{"values":[0,0.1,0.2,0.3,0.4,0.5,0.6,0.7,0.8],"labelExpr":"replace(format(datum.value,'.1f'),'.',',')","title":"Spectral Power"}},
  "color":{"field":"k","type":"quantitative","scale":{"domain":[0,9],"range":["#333333","#c2c2c2"]},"legend":null},
  "detail":{"field":"k","type":"nominal"}}},
{"width":516,"height":338,"title":{"text":"CTA 102 (4.8 GHz O-C), 2010","dx":-22},"data":{"name":"p3"},"mark":{"type":"line"},
 "encoding":{
  "x":{"field":"x","type":"quantitative","scale":{"domain":[0,450],"nice":false},"axis":{"values":[0,50,100,150,200,250,300,350,400,450],"title":"Period (days)"}},
  "y":{"field":"y","type":"quantitative","scale":{"domain":[0,0.7],"nice":false},"axis":{"values":[0,0.1,0.2,0.3,0.4,0.5,0.6,0.7],"labelExpr":"replace(format(datum.value,'.1f'),'.',',')","title":"Spectral Power"}},
  "color":{"field":"k","type":"quantitative","scale":{"domain":[0,9],"range":["#333333","#c2c2c2"]},"legend":null},
  "detail":{"field":"k","type":"nominal"}}}
]
}
